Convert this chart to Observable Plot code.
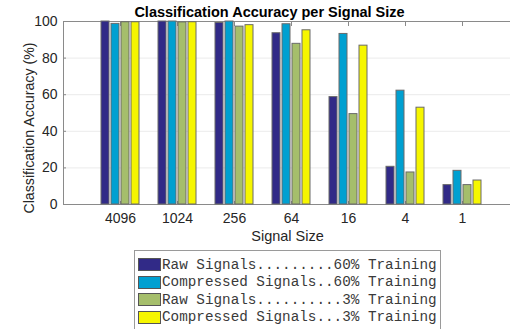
<!DOCTYPE html>
<html>
<head>
<meta charset="utf-8">
<script src="https://cdn.jsdelivr.net/npm/d3@7"></script>
<script src="https://cdn.jsdelivr.net/npm/@observablehq/plot@0.6"></script>
<style>
  html, body { margin: 0; padding: 0; background: #fff; overflow: hidden; }
  #chart { position: relative; width: 510px; height: 248px; }
  #chart svg { position: absolute; left: 0; top: 0; }
  #legend {
    position: absolute; left: 134px; top: 250px; width: 307px; height: 90px;
    border: 1px solid #9a9a9a; box-sizing: border-box; padding-top: 5px; background: #fff;
  }
  .row { display: flex; align-items: center; height: 17.5px; }
  .sw { width: 23px; height: 13px; border: 1px solid #555; margin-left: 3px; margin-right: 1px; box-sizing: border-box; }
  .lab { font-family: "Liberation Mono", "Courier New", monospace; font-size: 14.3px; color: #3a3a3a; white-space: pre; }
</style>
</head>
<body>
<div id="chart"></div>
<div id="legend"></div>
<script>
const sizes = ["4096", "1024", "256", "64", "16", "4", "1"];
const seriesNames = [
  "Raw Signals.........60% Training",
  "Compressed Signals..60% Training",
  "Raw Signals..........3% Training",
  "Compressed Signals...3% Training"
];
const raw60  = [100, 100, 99.2, 93.6, 58.7, 20.6, 10.6];
const comp60 = [98.7, 100, 100, 98.5, 93.2, 62.2, 18.4];
const raw3   = [99.6, 99.5, 97.2, 87.8, 49.4, 17.5, 10.6];
const comp3  = [99.6, 99.6, 98.0, 95.2, 86.8, 52.9, 13.1];
const colors = ["#312a87", "#00a0d1", "#a5be6b", "#f6f600"];
const yTicks = [0, 20, 40, 60, 80, 100];
const gridTicks = [20, 40, 60, 80];

const seriesValues = [raw60, comp60, raw3, comp3];
const data = [];
sizes.forEach((s, i) => {
  seriesNames.forEach((n, j) => data.push({size: s, series: n, value: seriesValues[j][i]}));
});

const axisColor = "#8a8a8a";
const common = {
  width: 510,
  height: 248,
  marginLeft: 63,
  marginRight: -9,
  marginTop: 21,
  marginBottom: 44,
  style: {fontFamily: "'Liberation Sans', Arial, sans-serif", fontSize: "14px", color: "#262626", background: "transparent"},
  y: {domain: [0, 100], axis: null}
};

// Background layer: grid, box, y axis, titles
const back = Plot.plot({
  ...common,
  style: {...common.style, background: "#fff"},
  marks: [
    Plot.ruleY(gridTicks, {stroke: "#ebebeb", strokeWidth: 1}),
    Plot.frame({stroke: axisColor, strokeWidth: 1}),
    Plot.axisY({ticks: yTicks, tickSize: -3, tickPadding: 9, stroke: axisColor, fontSize: 14, label: null}),
    Plot.text(["Classification Accuracy per Signal Size"], {frameAnchor: "top", lineAnchor: "bottom", dx: -22, dy: -5, fontWeight: "bold", fontSize: 14.5, fill: "#000"}),
    Plot.text(["Classification Accuracy (%)"], {frameAnchor: "left", textAnchor: "middle", lineAnchor: "middle", rotate: -90, dx: -34.5, dy: 15, fontSize: 14.2, fill: "#262626"}),
    Plot.text(["Signal Size"], {frameAnchor: "bottom", lineAnchor: "bottom", dx: -4, dy: 36, fontSize: 14.5, fill: "#262626"})
  ]
});

// Foreground layer: grouped bars with group axis
const front = Plot.plot({
  ...common,
  fx: {domain: sizes, paddingInner: 0.27, paddingOuter: 0.635, label: null},
  x: {domain: seriesNames, paddingInner: 0.23, paddingOuter: 0.115, axis: null},
  color: {domain: seriesNames, range: colors},
  marks: [
    Plot.axisFx({anchor: "bottom", tickSize: -3, tickPadding: 12, stroke: axisColor, fontSize: 14, label: null}),
    Plot.axisFx({anchor: "top", tickSize: -4, tickFormat: () => "", stroke: axisColor, label: null}),
    Plot.barY(data, {fx: "size", x: "series", y: "value", fill: "series", stroke: "#6a6a6a", strokeWidth: 1})
  ]
});

const holder = document.getElementById("chart");
holder.appendChild(back);
holder.appendChild(front);

const legend = d3.select("#legend");
seriesNames.forEach((n, j) => {
  const row = legend.append("div").attr("class", "row");
  row.append("div").attr("class", "sw").style("background", colors[j]);
  row.append("span").attr("class", "lab").text(n);
});
</script>
</body>
</html>
